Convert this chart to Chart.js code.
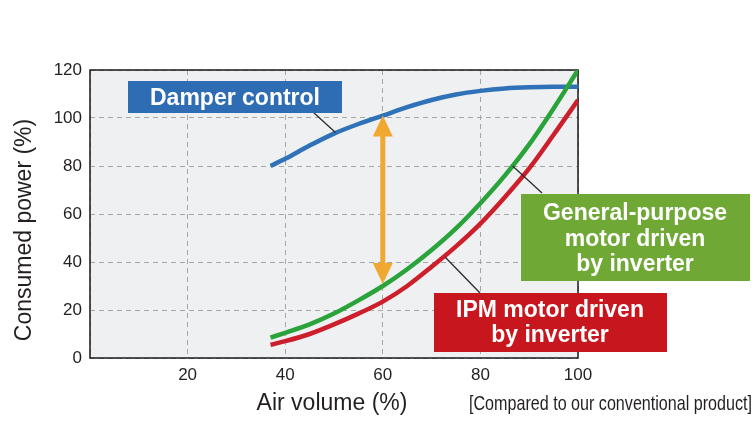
<!DOCTYPE html>
<html>
<head>
<meta charset="utf-8">
<script src="https://cdn.jsdelivr.net/npm/chart.js@4"></script>
<style>
  html, body { margin: 0; padding: 0; background: #ffffff; }
  #wrap { width: 755px; height: 425px; position: relative; }
</style>
</head>
<body>
<div id="wrap"><canvas id="c" width="755" height="425"></canvas></div>
<script>
// ---- data ----
const airVolume = [37, 40, 45, 50, 55, 60, 65, 70, 75, 80, 85, 90, 95, 100];
const damperControl = [80, 83, 88.5, 93.5, 97.5, 101, 104.5, 107.5, 109.8, 111.3, 112.3, 112.8, 113, 113];
const generalPurpose = [8.5, 10.5, 14, 18.5, 24, 30, 37, 45, 54, 64.5, 76, 89, 104, 120];
const ipmMotor = [5.5, 7, 10, 14, 18.5, 23.5, 30, 38, 46.5, 56, 67, 79, 93, 107.5];
const xTicks = [20, 40, 60, 80, 100];
const yTicks = [0, 20, 40, 60, 80, 100, 120];
const labelDamper = ['Damper control'];
const labelGeneral = ['General-purpose', 'motor driven', 'by inverter'];
const labelIPM = ['IPM motor driven', 'by inverter'];
const xTitle = 'Air volume (%)';
const yTitle = 'Consumed power (%)';
const note = '[Compared to our conventional product]';
const arrowAt = 60; // air volume where the savings arrow is drawn

const FONT = '"Liberation Sans", Arial, Helvetica, sans-serif';
const TEXT = '#231f20';
const C_BLUE = '#2f72b8', C_GREEN = '#2aa33a', C_RED = '#cc1f2b';
const B_BLUE = '#2e6db4', B_GREEN = '#6fa834', B_RED = '#c8161e';
const ORANGE = '#f0a830';

Chart.defaults.font.family = FONT;

function pts(ys) { return airVolume.map((x, i) => ({ x: x, y: ys[i] })); }

const decor = {
  id: 'decor',
  beforeDraw(chart) {
    const { ctx, chartArea: a } = chart;
    ctx.save();
    ctx.fillStyle = '#eef0f2';
    ctx.fillRect(a.left, a.top, a.right - a.left, a.bottom - a.top);
    ctx.restore();
  },
  beforeDatasetsDraw(chart) {
    const { ctx, chartArea: a } = chart;
    ctx.save();
    ctx.strokeStyle = '#1a1a1a';
    ctx.lineWidth = 1.5;
    ctx.strokeRect(a.left, a.top, a.right - a.left, a.bottom - a.top);
    ctx.restore();
  },
  afterDatasetsDraw(chart) {
    const { ctx } = chart;
    const xs = chart.scales.x, ys = chart.scales.y;
    const px = v => xs.getPixelForValue(v), py = v => ys.getPixelForValue(v);
    const i60 = airVolume.indexOf(arrowAt);

    // leader lines
    ctx.save();
    ctx.strokeStyle = '#2b2b2b';
    ctx.lineWidth = 1.3;
    const leaders = [
      [px(50.3), py(94), 313, 112],
      [px(86.6), py(80), 542, 193],
      [px(72.8), py(42), 480, 293]
    ];
    leaders.forEach(l => { ctx.beginPath(); ctx.moveTo(l[0], l[1]); ctx.lineTo(l[2], l[3]); ctx.stroke(); });
    ctx.restore();

    // double arrow
    const ax = px(arrowAt);
    const yTop = py(damperControl[i60]);
    const yBot = py(generalPurpose[i60]) - 2;
    const hh = 21, hw = 10, sw = 5;
    ctx.save();
    ctx.fillStyle = ORANGE;
    ctx.fillRect(ax - sw / 2, yTop + hh - 1, sw, (yBot - hh) - (yTop + hh) + 2);
    ctx.beginPath(); ctx.moveTo(ax, yTop); ctx.lineTo(ax + hw, yTop + hh); ctx.lineTo(ax - hw, yTop + hh); ctx.closePath(); ctx.fill();
    ctx.beginPath(); ctx.moveTo(ax, yBot); ctx.lineTo(ax + hw, yBot - hh); ctx.lineTo(ax - hw, yBot - hh); ctx.closePath(); ctx.fill();
    ctx.restore();

    // label boxes
    function box(x0, y0, x1, y1, color, lines, cx, baselines) {
      ctx.save();
      ctx.fillStyle = color;
      ctx.fillRect(x0, y0, x1 - x0, y1 - y0);
      ctx.fillStyle = '#ffffff';
      ctx.font = 'bold 23px ' + FONT;
      ctx.textAlign = 'center';
      ctx.textBaseline = 'alphabetic';
      lines.forEach((t, k) => ctx.fillText(t, cx, baselines[k]));
      ctx.restore();
    }
    box(128, 81, 342, 113, B_BLUE, labelDamper, 235, [105]);
    box(521, 194, 750, 281, B_GREEN, labelGeneral, 635, [220, 245.5, 270.5]);
    box(434, 293, 667, 352, B_RED, labelIPM, 550, [317, 342]);
  },
  afterDraw(chart) {
    const { ctx } = chart;
    ctx.save();
    ctx.fillStyle = TEXT;
    ctx.font = '23px ' + FONT;
    ctx.textAlign = 'center';
    ctx.textBaseline = 'alphabetic';
    ctx.fillText(xTitle, 332, 410);
    ctx.save();
    ctx.translate(30.5, 230);
    ctx.rotate(-Math.PI / 2);
    ctx.fillText(yTitle, 0, 0);
    ctx.restore();
    // condensed note
    ctx.font = '21px ' + FONT;
    ctx.textAlign = 'left';
    const w = ctx.measureText(note).width;
    const target = 283;
    ctx.translate(469, 410);
    ctx.scale(target / w, 1);
    ctx.fillText(note, 0, 0);
    ctx.restore();
  }
};

new Chart(document.getElementById('c'), {
  type: 'line',
  data: {
    datasets: [
      { label: 'General-purpose motor driven by inverter', data: pts(generalPurpose), borderColor: C_GREEN },
      { label: 'IPM motor driven by inverter', data: pts(ipmMotor), borderColor: C_RED },
      { label: 'Damper control', data: pts(damperControl), borderColor: C_BLUE }
    ]
  },
  options: {
    responsive: false,
    animation: false,
    events: [],
    layout: { padding: { left: 0, right: 177, top: 70, bottom: 0 } },
    elements: {
      line: { borderWidth: 4.5, cubicInterpolationMode: 'monotone', borderCapStyle: 'butt', fill: false },
      point: { radius: 0 }
    },
    plugins: { legend: { display: false }, tooltip: { enabled: false }, title: { display: false } },
    scales: {
      x: {
        type: 'linear', min: 0, max: 100,
        afterBuildTicks: s => { s.ticks = [0].concat(xTicks).map(v => ({ value: v })); },
        afterFit: s => { s.height = 67; },
        ticks: { padding: 7, color: TEXT, font: { size: 17 }, maxRotation: 0,
                 callback: v => (xTicks.includes(v) ? String(v) : '') },
        grid: { color: '#a6a6a6', lineWidth: 1, drawTicks: false },
        border: { display: false, dash: [5, 4] }
      },
      y: {
        type: 'linear', min: 0, max: 120,
        afterBuildTicks: s => { s.ticks = yTicks.map(v => ({ value: v })); },
        afterFit: s => { s.width = 90; },
        ticks: { padding: 8, color: TEXT, font: { size: 17 } },
        grid: { color: '#a6a6a6', lineWidth: 1, drawTicks: false },
        border: { display: false, dash: [5, 4] }
      }
    }
  },
  plugins: [decor]
});
</script>
</body>
</html>
